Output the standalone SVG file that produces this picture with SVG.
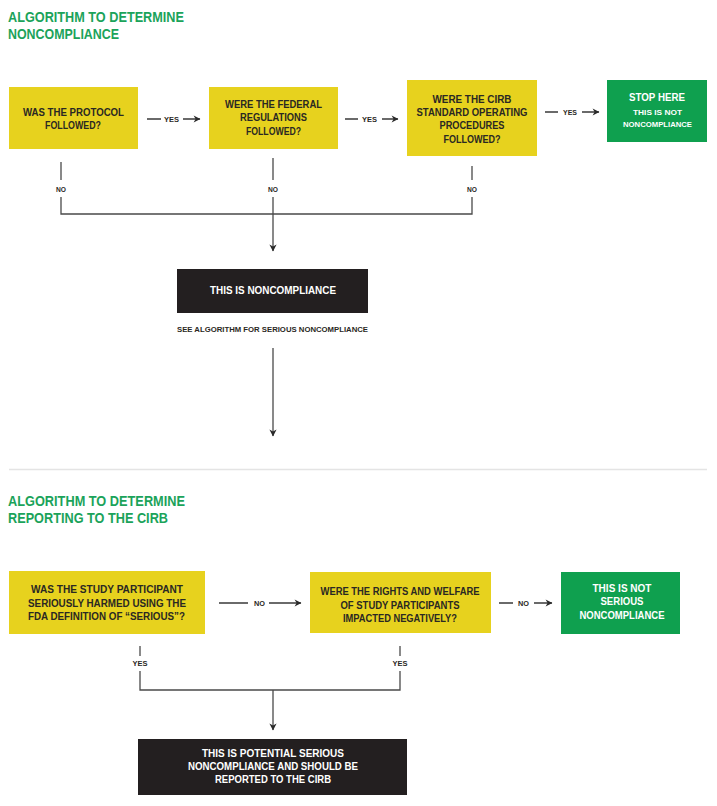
<svg xmlns="http://www.w3.org/2000/svg" width="717" height="806" viewBox="0 0 717 806">
<style>
text{font-family:"Liberation Sans",Arial,sans-serif;font-weight:bold;}
.title{fill:#1ba35a;font-size:14px;}
.q{fill:#e7d21e;}
.g{fill:#0fa04f;}
.k{fill:#231f20;}
.qt{fill:#2a2823;font-size:11px;text-anchor:middle;}
.wt{fill:#ffffff;text-anchor:middle;}
.lbl{fill:#2a2823;font-size:7px;text-anchor:middle;}
.note{fill:#2a2823;font-size:8px;text-anchor:middle;}
.ln{stroke:#4a4a4a;stroke-width:1.3;fill:none;}
.ar{stroke:#2a2a2a;stroke-width:1.4;fill:none;}
</style>
<defs>
<marker id="ah" viewBox="0 0 10 10" refX="9" refY="5" markerWidth="8" markerHeight="8" markerUnits="userSpaceOnUse" orient="auto">
<path d="M1,0.5 L9.5,5 L1,9.5 L3.5,5 Z" fill="#2a2a2a"/>
</marker>
</defs>
<rect width="717" height="806" fill="#ffffff"/>

<g id="title1">
<text class="title" x="8" y="22" textLength="176" lengthAdjust="spacingAndGlyphs">ALGORITHM TO DETERMINE</text>
<text class="title" x="8" y="39" textLength="111" lengthAdjust="spacingAndGlyphs">NONCOMPLIANCE</text>
</g>

<g id="protocol">
<rect class="q" x="9" y="87" width="129" height="62"/>
<text class="qt" x="73.5" y="116" textLength="101" lengthAdjust="spacingAndGlyphs">WAS THE PROTOCOL</text>
<text class="qt" x="73" y="129" textLength="56" lengthAdjust="spacingAndGlyphs">FOLLOWED?</text>
</g>

<g id="federal">
<rect class="q" x="209" y="87" width="129" height="62"/>
<text class="qt" x="273.5" y="108" textLength="97" lengthAdjust="spacingAndGlyphs">WERE THE FEDERAL</text>
<text class="qt" x="273.5" y="121" textLength="67" lengthAdjust="spacingAndGlyphs">REGULATIONS</text>
<text class="qt" x="273.5" y="135" textLength="55" lengthAdjust="spacingAndGlyphs">FOLLOWED?</text>
</g>

<g id="cirb-sop">
<rect class="q" x="407" y="80" width="130" height="76"/>
<text class="qt" x="472" y="103" textLength="79" lengthAdjust="spacingAndGlyphs">WERE THE CIRB</text>
<text class="qt" x="472" y="116" textLength="111" lengthAdjust="spacingAndGlyphs">STANDARD OPERATING</text>
<text class="qt" x="472" y="129" textLength="65" lengthAdjust="spacingAndGlyphs">PROCEDURES</text>
<text class="qt" x="472" y="143" textLength="57" lengthAdjust="spacingAndGlyphs">FOLLOWED?</text>
</g>

<g id="stop-here">
<rect class="g" x="607" y="80" width="100" height="62"/>
<text class="wt" x="657" y="101" font-size="11.5" textLength="56" lengthAdjust="spacingAndGlyphs">STOP HERE</text>
<text class="wt" x="657.5" y="115" font-size="8" textLength="49" lengthAdjust="spacingAndGlyphs">THIS IS NOT</text>
<text class="wt" x="657.5" y="127" font-size="8" textLength="69" lengthAdjust="spacingAndGlyphs">NONCOMPLIANCE</text>
</g>

<g id="noncompliance">
<rect class="k" x="177" y="269" width="191" height="44"/>
<text class="wt" x="273" y="294" font-size="10" textLength="126" lengthAdjust="spacingAndGlyphs">THIS IS NONCOMPLIANCE</text>
<text class="note" x="272.5" y="332" textLength="191" lengthAdjust="spacingAndGlyphs">SEE ALGORITHM FOR SERIOUS NONCOMPLIANCE</text>
</g>

<line x1="9" y1="469.5" x2="707" y2="469.5" stroke="#e4e4e4" stroke-width="1.5"/>

<g id="title2">
<text class="title" x="8" y="506" textLength="177" lengthAdjust="spacingAndGlyphs">ALGORITHM TO DETERMINE</text>
<text class="title" x="8" y="523" textLength="160" lengthAdjust="spacingAndGlyphs">REPORTING TO THE CIRB</text>
</g>

<g id="harmed">
<rect class="q" x="9" y="571" width="196" height="63"/>
<text class="qt" x="107" y="593" font-size="10.5" textLength="152" lengthAdjust="spacingAndGlyphs">WAS THE STUDY PARTICIPANT</text>
<text class="qt" x="107" y="607" font-size="10.5" textLength="158" lengthAdjust="spacingAndGlyphs">SERIOUSLY HARMED USING THE</text>
<text class="qt" x="106.5" y="620" font-size="10.5" textLength="157" lengthAdjust="spacingAndGlyphs">FDA DEFINITION OF “SERIOUS”?</text>
</g>

<g id="rights">
<rect class="q" x="310" y="572" width="181" height="61"/>
<text class="qt" x="400" y="595" font-size="10.5" textLength="159" lengthAdjust="spacingAndGlyphs">WERE THE RIGHTS AND WELFARE</text>
<text class="qt" x="400" y="609" font-size="10.5" textLength="119" lengthAdjust="spacingAndGlyphs">OF STUDY PARTICIPANTS</text>
<text class="qt" x="400" y="622" font-size="10.5" textLength="114" lengthAdjust="spacingAndGlyphs">IMPACTED NEGATIVELY?</text>
</g>

<g id="not-serious">
<rect class="g" x="561" y="572" width="119" height="62"/>
<text class="wt" x="622" y="592" font-size="10.5" textLength="59" lengthAdjust="spacingAndGlyphs">THIS IS NOT</text>
<text class="wt" x="622" y="605" font-size="10.5" textLength="43" lengthAdjust="spacingAndGlyphs">SERIOUS</text>
<text class="wt" x="622" y="619" font-size="10.5" textLength="85" lengthAdjust="spacingAndGlyphs">NONCOMPLIANCE</text>
</g>

<g id="report">
<rect class="k" x="138" y="739" width="269" height="56"/>
<text class="wt" x="273" y="757" font-size="10" textLength="142" lengthAdjust="spacingAndGlyphs">THIS IS POTENTIAL SERIOUS</text>
<text class="wt" x="273" y="770" font-size="10" textLength="170" lengthAdjust="spacingAndGlyphs">NONCOMPLIANCE AND SHOULD BE</text>
<text class="wt" x="273" y="783" font-size="10" textLength="116" lengthAdjust="spacingAndGlyphs">REPORTED TO THE CIRB</text>
</g>

<g id="connectors">
<line class="ar" x1="147" y1="119" x2="161" y2="119"/>
<text class="lbl" x="171.5" y="121.5" textLength="15" lengthAdjust="spacingAndGlyphs">YES</text>
<line class="ar" x1="183" y1="119" x2="200" y2="119" marker-end="url(#ah)"/>

<line class="ar" x1="345" y1="119" x2="358" y2="119"/>
<text class="lbl" x="369.5" y="121.5" textLength="15" lengthAdjust="spacingAndGlyphs">YES</text>
<line class="ar" x1="382" y1="119" x2="398" y2="119" marker-end="url(#ah)"/>

<line class="ar" x1="545" y1="112" x2="558" y2="112"/>
<text class="lbl" x="570" y="114.5" textLength="14" lengthAdjust="spacingAndGlyphs">YES</text>
<line class="ar" x1="582" y1="112" x2="599" y2="112" marker-end="url(#ah)"/>

<line class="ln" x1="61" y1="162" x2="61" y2="180"/>
<text class="lbl" x="61" y="192" textLength="10" lengthAdjust="spacingAndGlyphs">NO</text>
<line class="ln" x1="273" y1="158" x2="273" y2="180"/>
<text class="lbl" x="273" y="192" textLength="10" lengthAdjust="spacingAndGlyphs">NO</text>
<line class="ln" x1="472" y1="166" x2="472" y2="180"/>
<text class="lbl" x="472" y="192" textLength="10" lengthAdjust="spacingAndGlyphs">NO</text>
<path class="ln" d="M61,197 V214 H472 V197"/>
<line class="ln" x1="273" y1="197" x2="273" y2="251" marker-end="url(#ah)"/>
<line class="ln" x1="273" y1="348" x2="273" y2="436" marker-end="url(#ah)"/>

<line class="ar" x1="219" y1="603" x2="248" y2="603"/>
<text class="lbl" x="259.5" y="605.5" textLength="11" lengthAdjust="spacingAndGlyphs">NO</text>
<line class="ar" x1="269" y1="603" x2="301" y2="603" marker-end="url(#ah)"/>

<line class="ar" x1="499" y1="603" x2="513" y2="603"/>
<text class="lbl" x="523.5" y="605.5" textLength="11" lengthAdjust="spacingAndGlyphs">NO</text>
<line class="ar" x1="534" y1="603" x2="552" y2="603" marker-end="url(#ah)"/>

<line class="ln" x1="140" y1="646" x2="140" y2="656"/>
<text class="lbl" x="140" y="666" textLength="15" lengthAdjust="spacingAndGlyphs">YES</text>
<line class="ln" x1="400" y1="646" x2="400" y2="656"/>
<text class="lbl" x="400" y="666" textLength="15" lengthAdjust="spacingAndGlyphs">YES</text>
<path class="ln" d="M140,671 V690 H400 V671"/>
<line class="ln" x1="273" y1="690" x2="273" y2="730" marker-end="url(#ah)"/>
</g>
</svg>
